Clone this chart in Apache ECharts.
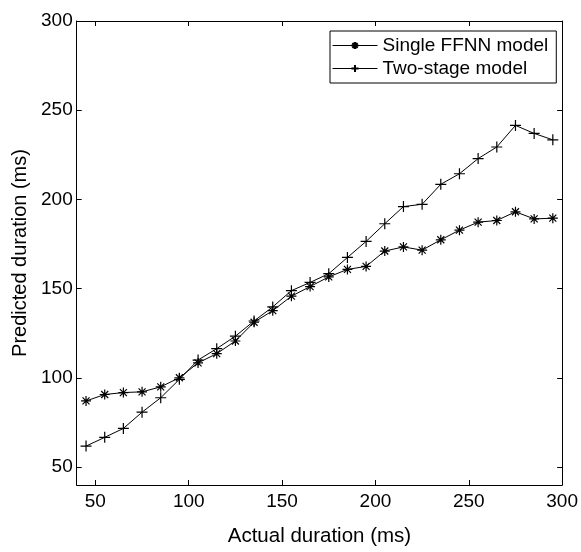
<!DOCTYPE html>
<html>
<head>
<meta charset="utf-8">
<script src="https://cdn.jsdelivr.net/npm/echarts@6/dist/echarts.min.js"></script>
<style>
html,body{margin:0;padding:0;background:#fff;}
#c{width:581px;height:552px;}
</style>
</head>
<body>
<div id="c"></div>
<script>
const actualDuration = [45,55,65,75,85,95,105,115,125,135,145,155,165,175,185,195,205,215,225,235,245,255,265,275,285,295];
const singleFFNN = [87.1,90.7,91.8,92.2,95.0,100.1,108.4,113.6,120.7,131.2,137.7,145.8,151.2,156.6,160.8,162.5,171.1,173.4,171.6,177.4,182.8,187.3,188.2,193.1,189.1,189.5];
const twoStage = [61.8,66.7,71.7,80.8,88.9,99.2,110.0,116.4,123.4,131.9,139.8,148.9,153.5,158.4,167.5,176.5,186.4,196.0,197.3,208.5,214.4,222.9,229.4,241.5,237.0,233.4];
const xTicks = [50,100,150,200,250,300];
const yTicks = [50,100,150,200,250,300];
const seriesNames = ['Single FFNN model','Two-stage model'];

const FONT = '"Liberation Sans", Arial, Helvetica, sans-serif';
const chart = echarts.init(document.getElementById('c'), null, {renderer:'canvas'});

const pairs = ys => actualDuration.map((x,i)=>[x, ys[i]]);
const asterisk = 'path://M5,0L5,10M0,5L10,5M1.5,1.5L8.5,8.5M8.5,1.5L1.5,8.5';
const plus = 'path://M5,0L5,10M0,5L10,5';

function mkX(pos, show){
  return {type:'value', position:pos, min:40, max:300,
    axisLine:{show:true, onZero:false, lineStyle:{color:'#000', width:1}},
    axisTick:{show:true, inside:true, length:5, customValues:xTicks, lineStyle:{color:'#000'}},
    axisLabel:{show:show, customValues:xTicks, color:'#000', fontSize:19, fontFamily:FONT, margin:7},
    splitLine:{show:false},
    name: show ? 'Actual duration (ms)' : '', nameLocation:'middle', nameGap:41,
    nameTextStyle:{color:'#000', fontSize:20.5, fontFamily:FONT}};
}
function mkY(pos, show){
  return {type:'value', position:pos, min:40, max:300,
    axisLine:{show:true, onZero:false, lineStyle:{color:'#000', width:1}},
    axisTick:{show:true, inside:true, length:5, customValues:yTicks, lineStyle:{color:'#000'}},
    axisLabel:{show:show, customValues:yTicks, color:'#000', fontSize:19, fontFamily:FONT, margin:4},
    splitLine:{show:false},
    name: show ? 'Predicted duration (ms)' : '', nameLocation:'middle', nameGap:44,
    nameTextStyle:{color:'#000', fontSize:20, fontFamily:FONT}};
}

chart.setOption({
  animation:false,
  backgroundColor:'#fff',
  grid:{left:76.7, right:17.3, top:21, bottom:51.7},
  xAxis:[mkX('bottom',true), mkX('top',false)],
  yAxis:[mkY('left',true), mkY('right',false)],
  legend:{
    left:330, top:31, orient:'vertical',
    padding:[5,8,5,2], itemGap:4, itemWidth:45, itemHeight:9,
    borderColor:'#000', borderWidth:1, backgroundColor:'#fff',
    lineStyle:{width:1},
    textStyle:{color:'#000', fontSize:19, fontFamily:FONT},
    data:seriesNames
  },
  series:[
    {name:seriesNames[0], type:'line', data:pairs(singleFFNN),
     symbol:asterisk, symbolSize:10, showAllSymbol:true,
     lineStyle:{color:'#000', width:1},
     itemStyle:{color:'rgba(0,0,0,0)', borderColor:'#000', borderWidth:1.2}},
    {name:seriesNames[1], type:'line', data:pairs(twoStage),
     symbol:plus, symbolSize:11, showAllSymbol:true,
     lineStyle:{color:'#000', width:1},
     itemStyle:{color:'rgba(0,0,0,0)', borderColor:'#000', borderWidth:1.2}}
  ]
});
</script>
</body>
</html>
